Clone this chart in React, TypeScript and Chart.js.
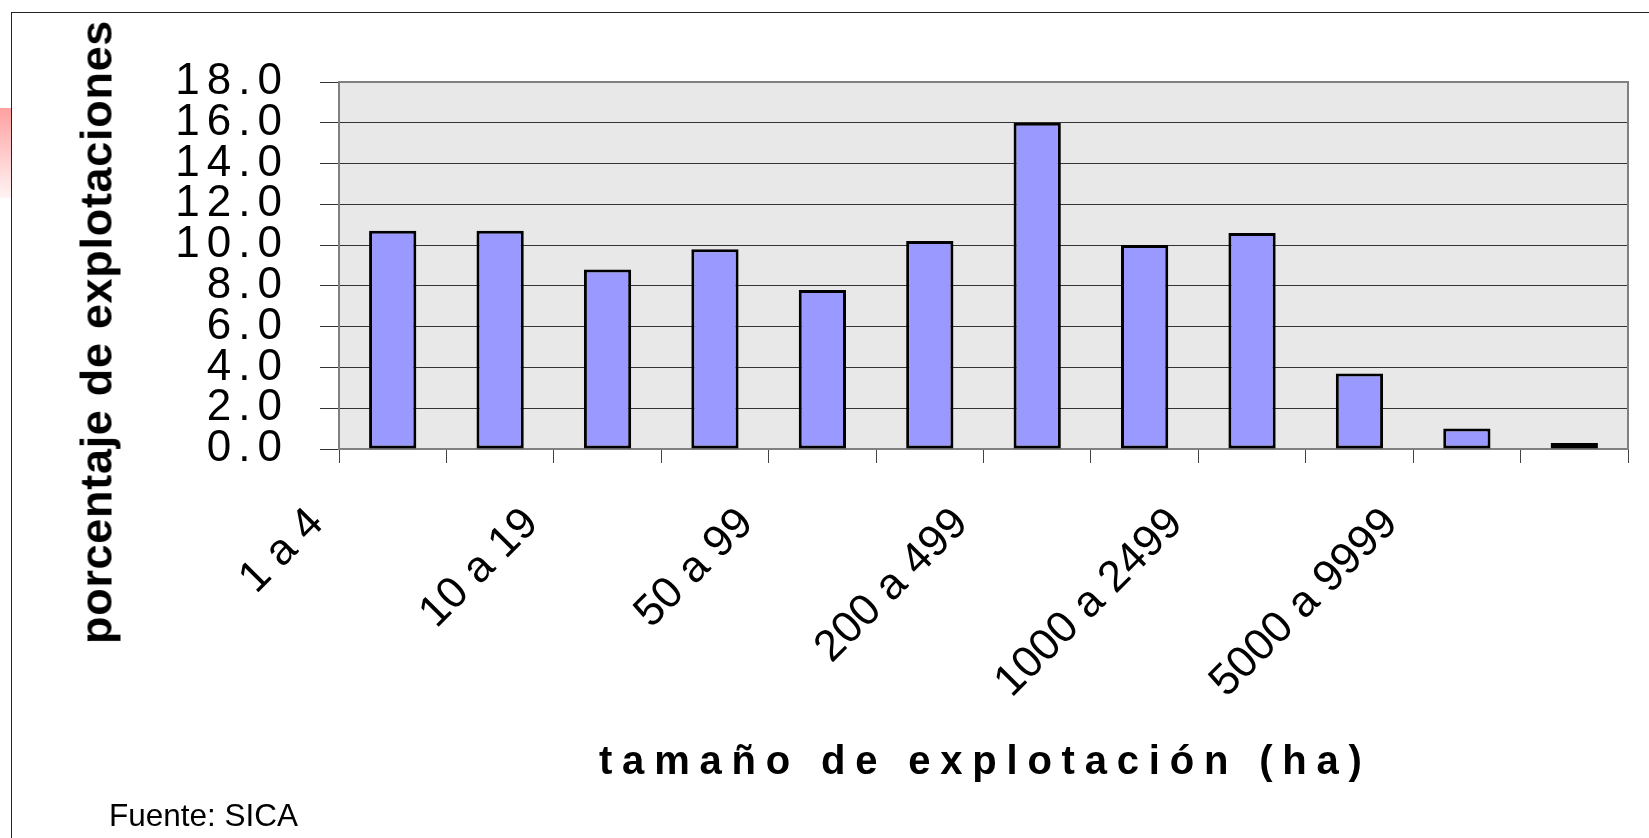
import React, { useEffect, useRef } from 'react';
import { Chart, registerables } from 'chart.js';

Chart.register(...registerables);

// ---- data ----
const categories = [
  '1 a 4', '5 a 9', '10 a 19', '20 a 49', '50 a 99', '100 a 199',
  '200 a 499', '500 a 999', '1000 a 2499', '2500 a 4999', '5000 a 9999', '10000 y más',
];
const percentages = [10.7, 10.7, 8.8, 9.8, 7.8, 10.2, 16.0, 10.0, 10.6, 3.7, 1.0, 0.3];
const yMin = 0;
const yMax = 18;
const yStep = 2;
const yAxisTitle = 'porcentaje de explotaciones';
const xAxisTitle = 'tamaño de explotación (ha)';
const sourceNote = 'Fuente: SICA';

const FONT = '"Liberation Sans", Arial, Helvetica, sans-serif';

const plotFrame = {
  id: 'plotFrame',
  beforeDraw(chart: any) {
    const { ctx, chartArea } = chart;
    const { left, top, width, height } = chartArea;
    ctx.save();
    ctx.fillStyle = '#e8e8e8';
    ctx.fillRect(left, top, width, height);
    ctx.restore();
    const ys: any = chart.scales.y;
    if (ys && !ys.__lsPatched) {
      const orig = ys.drawLabels.bind(ys);
      ys.drawLabels = (area: any) => {
        const c: any = chart.ctx;
        c.save();
        c.letterSpacing = '7px';
        orig(area);
        c.restore();
      };
      ys.__lsPatched = true;
    }
  },
  afterDraw(chart: any) {
    const { ctx, chartArea } = chart;
    const { left, top, right, bottom } = chartArea;
    ctx.save();
    ctx.strokeStyle = '#808080';
    ctx.lineWidth = 2;
    ctx.beginPath();
    ctx.moveTo(left, bottom);
    ctx.lineTo(left, top);
    ctx.lineTo(right, top);
    ctx.lineTo(right, bottom);
    ctx.stroke();
    ctx.restore();
  },
};

export default function App() {
  const canvasRef = useRef<HTMLCanvasElement | null>(null);

  useEffect(() => {
    document.body.style.margin = '0';
    const canvas = canvasRef.current;
    if (!canvas) return;
    const chart = new Chart(canvas, {
      type: 'bar',
      data: {
        labels: categories,
        datasets: [
          {
            data: percentages,
            backgroundColor: '#9999ff',
            borderColor: '#000000',
            borderWidth: 3,
            borderSkipped: false,
            barPercentage: 0.44,
            categoryPercentage: 1.0,
          },
        ],
      },
      options: {
        responsive: false,
        animation: false,
        layout: { padding: { top: 82, right: 21, left: 0, bottom: 0 } },
        plugins: {
          legend: { display: false },
          tooltip: { enabled: false },
          title: { display: false },
        },
        scales: {
          x: {
            offset: true,
            grid: {
              display: true,
              offset: true,
              drawOnChartArea: false,
              drawTicks: true,
              tickLength: 14,
              color: '#444444',
              lineWidth: 1,
            },
            border: { display: true, color: '#808080', width: 2 },
            ticks: {
              autoSkip: false,
              minRotation: 45,
              maxRotation: 45,
              padding: 35,
              labelOffset: -76,
              color: '#000000',
              font: { family: FONT, size: 44 },
              callback: (_v: any, i: number) => (i % 2 === 0 ? categories[i] : ''),
            },
            afterFit: (scale: any) => {
              scale.height = 389;
              scale.paddingLeft = 0;
              scale.paddingRight = 0;
            },
          },
          y: {
            min: yMin,
            max: yMax,
            grid: {
              color: '#333333',
              lineWidth: 1,
              drawTicks: true,
              tickLength: 19,
            },
            border: { display: true, color: '#808080', width: 2 },
            ticks: {
              autoSkip: false,
              stepSize: yStep,
              padding: 31,
              color: '#000000',
              font: { family: FONT, size: 44 },
              callback: (v: any) => Number(v).toFixed(1),
            },
            afterFit: (scale: any) => {
              scale.width = 339;
            },
          },
        },
      },
      plugins: [plotFrame],
    });
    return () => chart.destroy();
  }, []);

  return (
    <div style={{ position: 'relative', width: 1649, height: 838, overflow: 'hidden', background: '#ffffff' }}>
      <div
        style={{
          position: 'absolute', left: 0, top: 108, width: 11, height: 90,
          background: 'linear-gradient(to bottom, #ffa0a0, #fff4f4)',
        }}
      />
      <div
        style={{
          position: 'absolute', left: 11, top: 12, width: 2000, height: 2000,
          borderTop: '1.5px solid #222', borderLeft: '1.5px solid #222',
        }}
      />
      <canvas ref={canvasRef} width={1649} height={838} style={{ position: 'absolute', left: 0, top: 0, width: 1649, height: 838 }} />
      <div
        style={{
          position: 'absolute', left: 96, top: 332, transform: 'translate(-50%, -50%) rotate(-90deg)',
          whiteSpace: 'nowrap', fontFamily: FONT, fontWeight: 'bold', fontSize: 45, lineHeight: '45px',
          letterSpacing: '0.7px', color: '#000',
        }}
      >
        {yAxisTitle}
      </div>
      <div
        style={{
          position: 'absolute', left: 599, top: 740, whiteSpace: 'nowrap',
          fontFamily: FONT, fontWeight: 'bold', fontSize: 40, lineHeight: '40px', letterSpacing: '9.8px', color: '#000',
        }}
      >
        {xAxisTitle}
      </div>
      <div
        style={{
          position: 'absolute', left: 109, top: 800, whiteSpace: 'nowrap',
          fontFamily: FONT, fontSize: 31.5, lineHeight: '31.5px', color: '#000',
        }}
      >
        {sourceNote}
      </div>
    </div>
  );
}
